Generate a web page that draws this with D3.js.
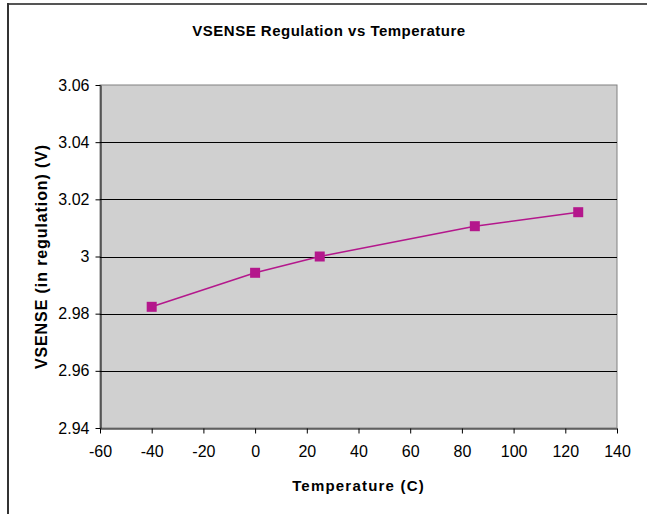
<!DOCTYPE html>
<html><head><meta charset="utf-8">
<script src="https://cdn.jsdelivr.net/npm/d3@7"></script>
<style>body{margin:0;background:#fff}svg{display:block}</style>
</head><body>
<script>
const temps = [-40, 0, 25, 85, 125];
const vsense = [2.9824, 2.9943, 3.0000, 3.0106, 3.0155];
const xTicks = [-60, -40, -20, 0, 20, 40, 60, 80, 100, 120, 140];
const yTicks = [2.94, 2.96, 2.98, 3.00, 3.02, 3.04, 3.06];
const title = "VSENSE Regulation vs Temperature";
const xTitle = "Temperature (C)";
const yTitle = "VSENSE (in regulation) (V)";

const W = 647, H = 514;
const L = 100, R = 617, T = 85, B = 428;
const color = "#B4178C";
const svg = d3.select("body").append("svg").attr("width", W).attr("height", H);

// outer border
svg.append("line").attr("x1", 7).attr("x2", W).attr("y1", 4).attr("y2", 4).attr("stroke", "#555").attr("stroke-width", 2);
svg.append("line").attr("x1", 8).attr("x2", 8).attr("y1", 3).attr("y2", H).attr("stroke", "#333").attr("stroke-width", 2);

const x = d3.scaleLinear().domain([-60, 140]).range([L, R]);
const y = d3.scaleLinear().domain([2.94, 3.06]).range([B, T]);

svg.append("rect").attr("x", L).attr("y", T).attr("width", R - L).attr("height", B - T)
  .attr("fill", "#D0D0D0").attr("stroke", "#808080").attr("stroke-width", 1);

// gridlines
svg.append("g").selectAll("line").data(yTicks.slice(1, -1)).join("line")
  .attr("x1", L).attr("x2", R)
  .attr("y1", d => Math.round(y(d)) + 0.5).attr("y2", d => Math.round(y(d)) + 0.5)
  .attr("stroke", "#000").attr("stroke-width", 1);

const font = "'Liberation Sans', Arial, sans-serif";

const xAxis = svg.append("g").attr("transform", `translate(0,${B + 0.5})`)
  .call(d3.axisBottom(x).tickValues(xTicks).tickSize(5).tickSizeOuter(0).tickPadding(12).tickFormat(d => String(d)));
const yAxis = svg.append("g").attr("transform", `translate(${L + 0.5},0)`)
  .call(d3.axisLeft(y).tickValues(yTicks).tickSize(5).tickSizeOuter(0).tickPadding(6).tickFormat(d => d === 3 ? "3" : d3.format(".2f")(d)));
[xAxis, yAxis].forEach(g => {
  g.select(".domain").attr("stroke", "#000");
  g.selectAll(".tick line").attr("stroke", "#000");
  g.selectAll("text").attr("font-family", font).attr("font-size", 16).attr("fill", "#000");
});

// line + markers
svg.append("path").datum(temps.map((t, i) => [t, vsense[i]]))
  .attr("d", d3.line().x(d => x(d[0])).y(d => y(d[1])))
  .attr("fill", "none").attr("stroke", color).attr("stroke-width", 1.5);
svg.append("g").selectAll("rect").data(temps.map((t, i) => [t, vsense[i]])).join("rect")
  .attr("x", d => x(d[0]) - 5).attr("y", d => y(d[1]) - 5)
  .attr("width", 10).attr("height", 10).attr("fill", color);

svg.append("text").attr("x", 329).attr("y", 36).attr("text-anchor", "middle")
  .attr("font-family", font).attr("font-size", 15).attr("font-weight", "bold").attr("letter-spacing", 0.5).text(title);
svg.append("text").attr("x", (L + R) / 2).attr("y", 491).attr("text-anchor", "middle")
  .attr("font-family", font).attr("font-size", 15).attr("font-weight", "bold").attr("letter-spacing", 1.2).text(xTitle);
svg.append("text").attr("transform", `translate(47,${(T + B) / 2}) rotate(-90)`).attr("text-anchor", "middle")
  .attr("font-family", font).attr("font-size", 16).attr("font-weight", "bold").attr("letter-spacing", 0.9).text(yTitle);
</script>
</body></html>
